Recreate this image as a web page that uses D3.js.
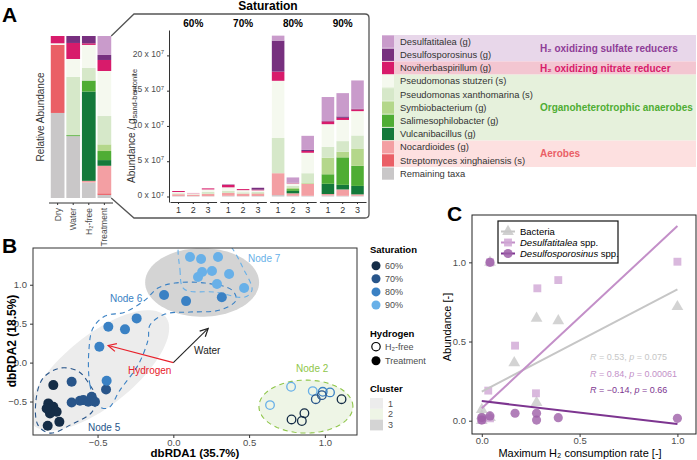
<!doctype html>
<html lang="en">
<head>
<meta charset="UTF-8">
<title>Saturation, hydrogen and microbial communities</title>
<script src="https://d3js.org/d3.v7.min.js"></script>
<style>
body { margin: 0; background: #fff; }
svg { display: block; font-family: "Liberation Sans", Arial, Helvetica, sans-serif; }
.axis path, .axis line { stroke: #333; }
.axis text { fill: #4d4d4d; font-family: "Liberation Sans", Arial, Helvetica, sans-serif; }
</style>
</head>
<body>
<div id="plot"></div>
<script>

// ---------- panel A data ----------
var taxa = ["Desulfatitalea (g)", "Desulfosporosinus (g)", "Noviherbaspirillum (g)",
	"Pseudomonas stutzeri (s)", "Pseudomonas xanthomarina (s)", "Symbiobacterium (g)",
	"Salimesophilobacter (g)", "Vulcanibacillus (g)", "Nocardioides (g)",
	"Streptomyces xinghaiensis (s)", "Remaining taxa"];
var taxaColors = ["#c99bcb", "#77307f", "#d81b6b", "#f5f9ef", "#d6e8c9", "#b4d78b",
	"#4fad34", "#14793a", "#f39fa3", "#ea5f66", "#c9c7c8"];

var relSamples = ["Dry", "Water", "H₂-free", "Treatment"];
// one row per taxon, one column per sample (fraction)
var relAbundance = [
	[0, 0, 0, 0.117],
	[0, 0.043, 0.045, 0.031],
	[0.045, 0.099, 0.010, 0.068],
	[0.010, 0.110, 0.142, 0.278],
	[0, 0.360, 0.078, 0.175],
	[0, 0, 0, 0.041],
	[0, 0.006, 0.068, 0.056],
	[0, 0, 0.551, 0.035],
	[0, 0, 0.010, 0.170],
	[0.420, 0, 0, 0.010],
	[0.525, 0.382, 0.096, 0.019]
];

var satLevels = ["60%", "70%", "80%", "90%"];
var replicates = ["1", "2", "3"];
// x 10^7 per g sand-bentonite, columns 60%-1 ... 90%-3
var absAbundance = [
	[0, 0, 0, 0, 0, 0.05, 0.7, 0.75, 2.0, 3.4, 3.3, 4.0],
	[0, 0, 0, 0.05, 0, 0.25, 4.4, 0.05, 0.15, 0.05, 0.2, 0.1],
	[0.14, 0.04, 0.15, 0.35, 0.15, 0.1, 1.3, 0.05, 0.25, 0.4, 0.3, 0.25],
	[0.18, 0.15, 0.35, 0.5, 0.3, 0.2, 8.1, 0.35, 2.9, 3.2, 3.0, 3.45],
	[0.14, 0.05, 0.25, 0.3, 0.2, 0.2, 5.0, 0.3, 1.4, 1.55, 1.5, 1.85],
	[0, 0, 0.05, 0, 0, 0.05, 0, 0.15, 0.1, 2.35, 0.8, 2.45],
	[0, 0, 0, 0, 0, 0, 0, 0.25, 0, 1.35, 3.9, 2.85],
	[0, 0, 0, 0, 0, 0, 0, 0.35, 0, 1.45, 0.65, 1.2],
	[0.24, 0.2, 0.3, 0.4, 0.35, 0.35, 3.1, 0.35, 1.7, 0.2, 0.9, 0.2],
	[0, 0, 0, 0, 0, 0, 0, 0, 0, 0, 0, 0],
	[0.08, 0.06, 0.05, 0.1, 0.05, 0.07, 0.2, 0.1, 0.1, 0.15, 0.1, 0.1]
];
var absTicks = [0, 5, 10, 15, 20];

var taxaGroups = [
	{ label: "H₂ oxidizing sulfate reducers", from: 0, to: 1, band: "#e8d7ea", color: "#8e3d97" },
	{ label: "H₂ oxidizing nitrate reducer", from: 2, to: 2, band: "#f3c6d1", color: "#d81b6b" },
	{ label: "Organoheterotrophic anaerobes", from: 3, to: 7, band: "#e6f1dc", color: "#4fad34" },
	{ label: "Aerobes", from: 8, to: 9, band: "#fde0e0", color: "#ea5f66" }
];

// ---------- panel B data ----------
var satColors = ["#152d47", "#28558a", "#3a81c4", "#68b0e8"];
var rdaX = [-0.792, -0.825, -0.792, -0.77, -0.814, -0.752, -0.829, -0.836,
	-0.671, -0.671, -0.616, -0.594, -0.561, -0.539, -0.517, -0.444,
	-0.242, -0.429, -0.319, -0.488, -0.44, -0.061, 0.084, 0.32,
	0.11, 0.183, 0.295, 0.19, 0.255, 0.163, 0.368, 0.288, 0.467,
	0.777, 0.638, 0.92, 0.986, 1.034, 0.98, 0.94, 1.11, 0.865, 0.78, 0.848];
var rdaY = [-0.289, -0.524, -0.568, -0.632, -0.653, -0.761, -0.812, -0.589,
	-0.247, -0.512, -0.491, -0.482, -0.504, -0.44, -0.504, -0.345,
	0.568, 0.46, 0.427, 0.203, -0.234, 0.868, 0.79, 0.84,
	1.356, 1.33, 1.356, 1.163, 1.176, 1.099, 1.138, 1.009, 0.958,
	-0.31, -0.546, -0.366, -0.375, -0.383, -0.418, -0.47, -0.47, -0.65, -0.73, -0.75];
var rdaSat = ["60%", "60%", "60%", "60%", "60%", "60%", "60%", "60%",
	"70%", "70%", "70%", "70%", "70%", "70%", "70%", "70%",
	"80%", "80%", "80%", "80%", "80%", "80%", "80%", "80%",
	"90%", "90%", "90%", "90%", "90%", "90%", "90%", "90%", "90%",
	"90%", "90%", "90%", "80%", "80%", "70%", "70%", "60%", "60%", "60%", "60%"];
var rdaH2 = rdaX.map(function (d, i) { return i < 33 ? "Treatment" : "H2-free"; });

// stat_ellipse of the three clusters: centre, semi axes, angle (data units)
var clusterEllipses = [
	{ cluster: "1", cx: -0.49, cy: -0.1, a: 0.85, b: 0.3, angle: 63.7 },
	{ cluster: "2", cx: 0.875, cy: -0.565, a: 0.31, b: 0.34, angle: 0 },
	{ cluster: "3", cx: 0.19, cy: 1.03, a: 0.376, b: 0.44, angle: 0 }
];
var clusterColors = ["#ececec", "#eef5e6", "#d4d4d4"];

// node hulls traced around the points (data units)
var node5Hull = [[-0.893, -0.803], [-0.906, -0.482], [-0.86, -0.2], [-0.748, -0.071], [-0.629, -0.109],
	[-0.563, -0.251], [-0.51, -0.456], [-0.537, -0.636], [-0.669, -0.79], [-0.814, -0.906]];
var node6Hull = [[-0.503, -0.546], [-0.55, -0.289], [-0.557, 0.161], [-0.53, 0.443], [-0.451, 0.598],
	[-0.319, 0.649], [-0.187, 0.803], [-0.101, 0.958], [0.011, 1.022], [0.209, 1.022], [0.387, 0.932],
	[0.414, 0.803], [0.308, 0.675], [0.11, 0.649], [-0.055, 0.623], [-0.154, 0.482], [-0.167, 0.289],
	[-0.233, -0.032], [-0.352, -0.353], [-0.431, -0.585]];
var node7Hull = [[0.051, 1.575], [0.044, 1.189], [0.071, 0.945], [0.275, 0.906], [0.473, 0.842],
	[0.519, 0.932], [0.46, 1.215], [0.387, 1.472], [0.308, 1.626]];

var envVectors = [
	{ name: "Hydrogen", x: -0.43, y: 0.22, color: "#e8202a" },
	{ name: "Water", x: 0.23, y: 0.44, color: "#222" }
];

// ---------- panel C data ----------
var bactX = [0, 0, 0, 0.042, 0.042, 0.166, 0.28, 0.28, 0.391, 1.0];
var bactY = [0, 0.03, 0.07, 0.02, 1.0, 0.366, 0.646, 0.114, 0.631, 0.72];
var dtaX = [0, 0, 0.042, 0.033, 0.042, 0.17, 0.277, 0.284, 0.391, 1.0];
var dtaY = [0.004, 0.012, 0.015, 0.19, 1.0, 0.474, 0.173, 0.836, 0.888, 1.004];
var dspX = [0, 0, 0.042, 0.042, 0.17, 0.28, 0.28, 0.391, 1.0];
var dspY = [0.004, 0.02, 0.03, 1.0, 0.047, 0.047, 0.004, 0.019, 0.015];
// fitted lines, value at x = 0 and x = 1
var fitBact = [0.183, 0.83];
var fitDta = [0.078, 1.229];
var fitDsp = [0.124, -0.021];
var statLabels = [
	{ r: "0.53", p: "0.075", color: "#c6c6c6" },
	{ r: "0.84", p: "0.00061", color: "#c38fc8" },
	{ r: "\u22120.14", p: "0.66", color: "#7d3590" }
];

// ---------------------------------------------------------------
var width = 697, height = 460;
var svg = d3.select("#plot").append("svg")
	.attr("width", width)
	.attr("height", height);

function panelLetter(t, x, y) {
	svg.append("text").attr("x", x).attr("y", y)
		.style("font-size", "21px").style("font-weight", "bold").text(t);
}
panelLetter("A", 2, 22);
panelLetter("B", 2, 253);
panelLetter("C", 447, 221);

var stackKeys = taxa.slice().reverse();
var stack = d3.stack().keys(stackKeys);
function stackRows(samples, matrix) {
	return samples.map(function (s, i) {
		var row = { sample: s, index: i };
		taxa.forEach(function (t, k) { row[t] = matrix[k][i]; });
		return row;
	});
}
function colorOf(key) { return taxaColors[taxa.indexOf(key)]; }

// ---------- A: relative abundance ----------
var xRel = d3.scaleBand().domain(relSamples).range([50, 112]).paddingInner(0.12).paddingOuter(0.05);
var yRel = d3.scaleLinear().domain([0, 1]).range([198, 36]);

svg.append("g").selectAll("g").data(stack(stackRows(relSamples, relAbundance))).join("g")
	.attr("fill", function (d) { return colorOf(d.key); })
	.selectAll("rect").data(function (d) { return d; }).join("rect")
	.attr("x", function (d) { return xRel(d.data.sample); })
	.attr("width", xRel.bandwidth())
	.attr("y", function (d) { return yRel(d[1]); })
	.attr("height", function (d) { return yRel(d[0]) - yRel(d[1]); });

var relAxis = svg.append("g").attr("class", "axis")
	.attr("transform", "translate(0,203)")
	.call(d3.axisBottom(xRel).tickSize(2).tickSizeOuter(0));
relAxis.select(".domain").attr("d", "M49,0H113");
relAxis.selectAll(".tick text")
	.attr("transform", "rotate(-90)")
	.attr("x", -5).attr("y", 0).attr("dy", "0.35em")
	.style("text-anchor", "end").style("font-size", "8.5px");

svg.append("text")
	.attr("transform", "translate(44," + (yRel(0.5)) + ") rotate(-90)")
	.attr("text-anchor", "middle").style("font-size", "10px").style("fill", "#333")
	.text("Relative Abundance");

// zoom callout
var tx = xRel("Treatment") + xRel.bandwidth();
svg.append("path")
	.attr("d", "M" + tx + "," + yRel(1) + "L134,14H365Q369,14 369,18V214Q369,218 365,218H134L" + tx + "," + yRel(0))
	.style("fill", "none").style("stroke", "#555").style("stroke-width", 1.3);

// ---------- A: absolute abundance ----------
var xGroup = d3.scaleBand().domain(satLevels).range([170, 366]).paddingInner(0.065);
var xRep = d3.scaleBand().domain(replicates).range([0, xGroup.bandwidth()]).paddingInner(0.15).paddingOuter(0.15);
var yAbs = d3.scaleLinear().domain([-0.78, 23.6]).range([202, 30]);

var absSamples = [];
satLevels.forEach(function (s) { replicates.forEach(function (r) { absSamples.push(s + "|" + r); }); });
function absX(id) {
	var p = id.split("|");
	return xGroup(p[0]) + xRep(p[1]);
}

svg.append("g").selectAll("g").data(stack(stackRows(absSamples, absAbundance))).join("g")
	.attr("fill", function (d) { return colorOf(d.key); })
	.selectAll("rect").data(function (d) { return d; }).join("rect")
	.attr("x", function (d) { return absX(d.data.sample); })
	.attr("width", xRep.bandwidth())
	.attr("y", function (d) { return yAbs(d[1]); })
	.attr("height", function (d) { return yAbs(d[0]) - yAbs(d[1]); });

var yAbsAxis = svg.append("g").attr("class", "axis")
	.attr("transform", "translate(169,0)")
	.call(d3.axisLeft(yAbs).tickValues(absTicks).tickSize(2).tickSizeOuter(0));
yAbsAxis.selectAll(".tick text").each(function (d) {
	var t = d3.select(this).text(null).style("font-size", "8.5px").attr("dy", "0.15em");
	t.append("tspan").text(d + " x 10");
	t.append("tspan").attr("dy", "-0.45em").style("font-size", "6px").text("7");
});

satLevels.forEach(function (s) {
	var sub = d3.scaleBand().domain(replicates)
		.range([xGroup(s), xGroup(s) + xGroup.bandwidth()]).paddingInner(0.15).paddingOuter(0.15);
	var g = svg.append("g").attr("class", "axis")
		.attr("transform", "translate(0,202)")
		.call(d3.axisBottom(sub).tickSize(2).tickSizeOuter(0));
	g.selectAll(".tick text").style("font-size", "9px").style("fill", "#333");
	svg.append("text")
		.attr("x", xGroup(s) + xGroup.bandwidth() / 2).attr("y", 26.5)
		.attr("text-anchor", "middle").style("font-size", "10px").style("font-weight", "bold")
		.text(s);
});

svg.append("text").attr("x", (xGroup.range()[0] + xGroup.range()[1]) / 2).attr("y", 10)
	.attr("text-anchor", "middle").style("font-size", "12px").style("font-weight", "bold")
	.text("Saturation");

var absTitle = svg.append("text")
	.attr("transform", "translate(135," + yAbs(10) + ") rotate(-90)")
	.attr("text-anchor", "middle").style("font-size", "10px").style("fill", "#333");
absTitle.append("tspan").text("Abundance / g");
absTitle.append("tspan").attr("dy", "0.3em").style("font-size", "7.5px").text("sand-bentonite");

// ---------- A: legend ----------
var rowH = 13.2, legTop = 35;
var legend = svg.append("g");
legend.selectAll("rect.band").data(taxaGroups).join("rect")
	.attr("x", 382).attr("width", 314)
	.attr("y", function (d) { return legTop + d.from * rowH; })
	.attr("height", function (d) { return (d.to - d.from + 1) * rowH; })
	.style("fill", function (d) { return d.band; });
legend.selectAll("text.group").data(taxaGroups).join("text")
	.attr("x", 540)
	.attr("y", function (d) { return legTop + (d.from + d.to + 1) * rowH / 2; })
	.attr("dy", "0.35em")
	.style("font-size", "10px").style("font-weight", "bold")
	.style("fill", function (d) { return d.color; })
	.text(function (d) { return d.label; });
legend.selectAll("rect.key").data(taxa).join("rect")
	.attr("x", 382).attr("width", 12)
	.attr("y", function (d, i) { return legTop + i * rowH + 0.5; })
	.attr("height", rowH - 1)
	.style("fill", function (d, i) { return taxaColors[i]; });
legend.selectAll("text.key").data(taxa).join("text")
	.attr("x", 400)
	.attr("y", function (d, i) { return legTop + i * rowH + rowH / 2; })
	.attr("dy", "0.35em")
	.style("font-size", "9.4px").style("fill", "#333")
	.text(function (d) { return d; });

// ---------- B: dbRDA ----------
var xB = d3.scaleLinear().domain([-0.926, 1.212]).range([33, 357]);
var yB = d3.scaleLinear().domain([-0.93, 1.472]).range([435, 248]);
var satScale = d3.scaleOrdinal().domain(satLevels).range(satColors);

svg.append("clipPath").attr("id", "clipB").append("rect")
	.attr("x", 33).attr("y", 248).attr("width", 324).attr("height", 187);
var gB = svg.append("g").attr("clip-path", "url(#clipB)");

function ellipsePoints(e) {
	var th = e.angle * Math.PI / 180;
	return d3.range(0, 361, 4).map(function (deg) {
		var t = deg * Math.PI / 180;
		return [e.cx + e.a * Math.cos(th) * Math.cos(t) - e.b * Math.sin(th) * Math.sin(t),
			e.cy + e.a * Math.sin(th) * Math.cos(t) + e.b * Math.cos(th) * Math.sin(t)];
	});
}
var lineB = d3.line().x(function (d) { return xB(d[0]); }).y(function (d) { return yB(d[1]); });
var hullB = d3.line().x(function (d) { return xB(d[0]); }).y(function (d) { return yB(d[1]); })
	.curve(d3.curveCatmullRomClosed.alpha(0.5));

gB.selectAll("path.cluster").data(clusterEllipses).join("path")
	.attr("d", function (d) { return lineB(ellipsePoints(d)) + "Z"; })
	.style("fill", function (d, i) { return clusterColors[i]; })
	.style("stroke", function (d) { return d.cluster === "2" ? "#8fc64a" : "none"; })
	.style("stroke-width", 1.1)
	.style("stroke-dasharray", "5,4");

[[node5Hull, satColors[1]], [node6Hull, satColors[2]], [node7Hull, satColors[3]]].forEach(function (h) {
	gB.append("path").attr("d", hullB(h[0]))
		.style("fill", "none").style("stroke", h[1])
		.style("stroke-width", 1.1).style("stroke-dasharray", "5,4");
});

// arrows
var defs = svg.append("defs");
envVectors.forEach(function (v, i) {
	defs.append("marker").attr("id", "arr" + i)
		.attr("viewBox", "0 0 10 10").attr("refX", 9).attr("refY", 5)
		.attr("markerWidth", 10).attr("markerHeight", 10)
		.attr("markerUnits", "userSpaceOnUse").attr("orient", "auto")
		.append("path").attr("d", "M1,1L9,5L1,9")
		.style("fill", "none").style("stroke", v.color).style("stroke-width", 1.2);
	gB.append("line")
		.attr("x1", xB(0)).attr("y1", yB(0))
		.attr("x2", xB(v.x)).attr("y2", yB(v.y))
		.style("stroke", v.color).style("stroke-width", 1.1)
		.attr("marker-end", "url(#arr" + i + ")");
});

gB.selectAll("circle.pt").data(rdaX).join("circle")
	.attr("cx", function (d) { return xB(d); })
	.attr("cy", function (d, i) { return yB(rdaY[i]); })
	.attr("r", function (d, i) { return rdaH2[i] === "Treatment" ? 5 : 4.3; })
	.style("fill", function (d, i) { return rdaH2[i] === "Treatment" ? satScale(rdaSat[i]) : "none"; })
	.style("stroke", function (d, i) { return rdaH2[i] === "Treatment" ? "none" : satScale(rdaSat[i]); })
	.style("stroke-width", 1.3);

var bLabels = [
	{ t: "Node 7", x: 0.493, y: 1.292, c: satColors[3] },
	{ t: "Node 6", x: -0.418, y: 0.778, c: satColors[2] },
	{ t: "Node 5", x: -0.563, y: -0.879, c: satColors[1] },
	{ t: "Node 2", x: 0.81, y: -0.121, c: "#8fc64a" },
	{ t: "Hydrogen", x: -0.299, y: -0.146, c: "#e8202a" },
	{ t: "Water", x: 0.137, y: 0.11, c: "#222" }
];
gB.selectAll("text.lab").data(bLabels).join("text")
	.attr("x", function (d) { return xB(d.x); })
	.attr("y", function (d) { return yB(d.y); })
	.style("font-size", "10px")
	.style("fill", function (d) { return d.c; })
	.text(function (d) { return d.t; });

svg.append("rect").attr("x", 33).attr("y", 248).attr("width", 324).attr("height", 187)
	.style("fill", "none").style("stroke", "#333").style("stroke-width", 1);

var xBAxis = svg.append("g").attr("class", "axis").attr("transform", "translate(0,435)")
	.call(d3.axisBottom(xB).tickValues([-0.5, 0, 0.5, 1]).tickFormat(d3.format(".1f")).tickSize(3).tickSizeOuter(0));
xBAxis.select(".domain").remove();
xBAxis.selectAll(".tick text").attr("y", 4).style("font-size", "9.5px");
var yBAxis = svg.append("g").attr("class", "axis").attr("transform", "translate(33,0)")
	.call(d3.axisLeft(yB).tickValues([-0.5, 0, 0.5, 1]).tickFormat(d3.format(".1f")).tickSize(3).tickSizeOuter(0));
yBAxis.select(".domain").remove();
yBAxis.selectAll(".tick text").style("font-size", "9.5px");

svg.append("text").attr("x", 195).attr("y", 456.5).attr("text-anchor", "middle")
	.style("font-size", "11.5px").style("font-weight", "bold").text("dbRDA1 (35.7%)");
svg.append("text").attr("transform", "translate(16,341) rotate(-90)").attr("text-anchor", "middle")
	.style("font-size", "12px").style("font-weight", "bold").text("dbRDA2 (18.5%)");

// B legend
var lb = svg.append("g").style("font-size", "9px");
lb.append("text").attr("x", 370).attr("y", 253).style("font-weight", "bold").style("font-size", "9.5px").text("Saturation");
satLevels.forEach(function (s, i) {
	lb.append("circle").attr("cx", 376).attr("cy", 265.7 + i * 13.1).attr("r", 4.5).style("fill", satColors[i]);
	lb.append("text").attr("x", 385).attr("y", 265.7 + i * 13.1).attr("dy", "0.35em").style("fill", "#4d4d4d").text(s);
});
lb.append("text").attr("x", 370).attr("y", 337).style("font-weight", "bold").style("font-size", "9.5px").text("Hydrogen");
lb.append("circle").attr("cx", 376).attr("cy", 346.7).attr("r", 4.2).style("fill", "none").style("stroke", "#000").style("stroke-width", 1.2);
lb.append("text").attr("x", 385).attr("y", 346.7).attr("dy", "0.35em").style("fill", "#4d4d4d").text("H₂-free");
lb.append("circle").attr("cx", 376).attr("cy", 360.7).attr("r", 4.5).style("fill", "#000");
lb.append("text").attr("x", 385).attr("y", 360.7).attr("dy", "0.35em").style("fill", "#4d4d4d").text("Treatment");
lb.append("text").attr("x", 370).attr("y", 392).style("font-weight", "bold").style("font-size", "9.5px").text("Cluster");
clusterEllipses.forEach(function (c, i) {
	lb.append("rect").attr("x", 370).attr("y", 398 + i * 10.8).attr("width", 13).attr("height", 10.8).style("fill", clusterColors[i]);
	lb.append("text").attr("x", 388).attr("y", 403.4 + i * 10.8).attr("dy", "0.35em").style("fill", "#4d4d4d").text(c.cluster);
});

// ---------- C: abundance vs H2 consumption ----------
var xC = d3.scaleLinear().domain([-0.05, 1.095]).range([472, 696]);
var yC = d3.scaleLinear().domain([-0.084, 1.299]).range([434, 215]);

svg.append("clipPath").attr("id", "clipC").append("rect")
	.attr("x", 472).attr("y", 215).attr("width", 224).attr("height", 219);
var gC = svg.append("g").attr("clip-path", "url(#clipC)");

var seriesC = [
	{ xs: bactX, ys: bactY, fit: fitBact, fill: "#c8c8c8", line: "#c6c6c6", shape: d3.symbolTriangle, size: 60 },
	{ xs: dtaX, ys: dtaY, fit: fitDta, fill: "#cfa6d4", line: "#c38fc8", shape: d3.symbolSquare, size: 62 },
	{ xs: dspX, ys: dspY, fit: fitDsp, fill: "#9d5fa8", line: "#7d3590", shape: d3.symbolCircle, size: 66 }
];
seriesC.forEach(function (s) {
	gC.selectAll(null).data(s.xs).join("path")
		.attr("d", d3.symbol().type(s.shape).size(s.size))
		.attr("transform", function (d, i) { return "translate(" + xC(d) + "," + yC(s.ys[i]) + ")"; })
		.style("fill", s.fill).style("fill-opacity", 0.8);
});
seriesC.forEach(function (s) {
	gC.append("line")
		.attr("x1", xC(0)).attr("y1", yC(s.fit[0]))
		.attr("x2", xC(1)).attr("y2", yC(s.fit[1]))
		.style("stroke", s.line).style("stroke-width", 2);
});

statLabels.forEach(function (d, i) {
	var t = svg.append("text").attr("x", 590).attr("y", 360 + i * 16.6)
		.style("font-size", "9px").style("fill", d.color);
	t.append("tspan").style("font-style", "italic").text("R");
	t.append("tspan").text(" = " + d.r + ", ");
	t.append("tspan").style("font-style", "italic").text("p");
	t.append("tspan").text(" = " + d.p);
});

svg.append("rect").attr("x", 472).attr("y", 215).attr("width", 224).attr("height", 219)
	.style("fill", "none").style("stroke", "#222").style("stroke-width", 1);

var xCAxis = svg.append("g").attr("class", "axis").attr("transform", "translate(0,434)")
	.call(d3.axisBottom(xC).tickValues([0, 0.5, 1]).tickFormat(d3.format(".1f")).tickSize(3).tickSizeOuter(0));
xCAxis.select(".domain").remove();
xCAxis.selectAll(".tick text").attr("y", 3).style("font-size", "9.5px");
var yCAxis = svg.append("g").attr("class", "axis").attr("transform", "translate(472,0)")
	.call(d3.axisLeft(yC).tickValues([0, 0.5, 1]).tickFormat(d3.format(".1f")).tickSize(3).tickSizeOuter(0));
yCAxis.select(".domain").remove();
yCAxis.selectAll(".tick text").style("font-size", "9.5px");

svg.append("text").attr("x", 580).attr("y", 457).attr("text-anchor", "middle")
	.style("font-size", "11px").text("Maximum H₂ consumption rate [-]");
svg.append("text").attr("transform", "translate(451,327) rotate(-90)").attr("text-anchor", "middle")
	.style("font-size", "11px").text("Abundance [-]");

// C legend
var lc = svg.append("g");
lc.append("rect").attr("x", 498).attr("y", 221).attr("width", 120).attr("height", 42)
	.style("fill", "#fff").style("stroke", "#111").style("stroke-width", 1.2);
var legC = [
	{ name: "Bacteria", italic: false },
	{ name: "Desulfatitalea", italic: true },
	{ name: "Desulfosporosinus", italic: true }
];
legC.forEach(function (d, i) {
	var y = 231.5 + i * 11;
	var s = seriesC[i];
	lc.append("line").attr("x1", 501).attr("x2", 515).attr("y1", y).attr("y2", y)
		.style("stroke", s.line).style("stroke-width", 2);
	lc.append("path").attr("d", d3.symbol().type(s.shape).size(s.size))
		.attr("transform", "translate(508," + y + ")").style("fill", s.fill).style("fill-opacity", 0.85);
	var t = lc.append("text").attr("x", 520).attr("y", y).attr("dy", "0.35em").style("font-size", "9.5px");
	if (d.italic) {
		t.append("tspan").style("font-style", "italic").text(d.name);
		t.append("tspan").text(" spp.");
	} else {
		t.text(d.name);
	}
});

</script>
</body>
</html>
